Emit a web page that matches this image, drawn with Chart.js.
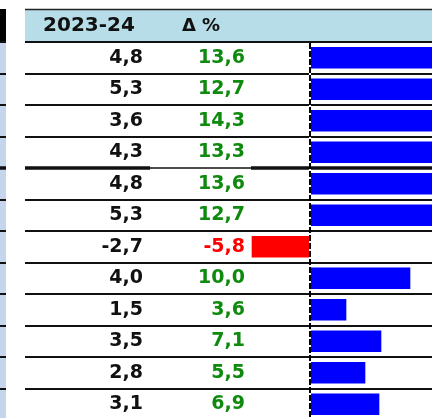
<!DOCTYPE html>
<html>
<head>
<meta charset="utf-8">
<script src="https://cdn.jsdelivr.net/npm/chart.js@4"></script>
<style>
html, body { margin: 0; padding: 0; background: #fff; overflow: hidden; }
canvas { display: block; }
</style>
</head>
<body>
<canvas id="myChart" width="432" height="422"></canvas>
<script>
var rowLabels = ['1', '2', '3', '4', '5', '6', '7', '8', '9', '10', '11', '12'];
var values2324 = [4.8, 5.3, 3.6, 4.3, 4.8, 5.3, -2.7, 4.0, 1.5, 3.5, 2.8, 3.1];
var deltaPct = [13.6, 12.7, 14.3, 13.3, 13.6, 12.7, -5.8, 10.0, 3.6, 7.1, 5.5, 6.9];
var headers = ['2023-24', 'Δ %'];

var barColors = deltaPct.map(function(v) { return v < 0 ? '#ff0000' : '#0000ff'; });

function fmt(v) {
	return v.toFixed(1).replace('.', ',');
}

var tablePlugin = {
	id: 'table',
	beforeDatasetsDraw: function(chart) {
		var ctx = chart.ctx;
		var y = chart.scales.y;
		var half = (y.getPixelForValue(1) - y.getPixelForValue(0)) / 2;
		var top = chart.chartArea.top;
		var w = chart.width;

		ctx.save();
		// left strip
		ctx.fillStyle = '#000';
		ctx.fillRect(0, 9, 6, top - 9);
		ctx.fillStyle = '#c5d6ec';
		ctx.fillRect(0, top, 6, chart.height - top);

		// header
		ctx.fillStyle = '#b7dde8';
		ctx.fillRect(25, 10, w - 25, top - 10);
		ctx.strokeStyle = '#222';
		ctx.lineWidth = 1.5;
		ctx.beginPath();
		ctx.moveTo(25, 9.5);
		ctx.lineTo(w, 9.5);
		ctx.stroke();

		// row lines
		for (var i = 0; i < rowLabels.length; i++) {
			var ly = Math.round(y.getPixelForValue(i) - half);
			ctx.strokeStyle = '#111';
			if (i == 4) {
				ctx.lineWidth = 3.5;
				ctx.beginPath();
				ctx.moveTo(0, ly); ctx.lineTo(6, ly);
				ctx.moveTo(25, ly); ctx.lineTo(150, ly);
				ctx.moveTo(251, ly); ctx.lineTo(w, ly);
				ctx.stroke();
				ctx.lineWidth = 1.5;
				ctx.beginPath();
				ctx.moveTo(150, ly); ctx.lineTo(251, ly);
				ctx.stroke();
			} else {
				ctx.lineWidth = 2;
				ctx.beginPath();
				ctx.moveTo(0, ly); ctx.lineTo(6, ly);
				ctx.moveTo(25, ly); ctx.lineTo(w, ly);
				ctx.stroke();
			}
		}

		// header text
		ctx.fillStyle = '#111';
		ctx.textBaseline = 'middle';
		ctx.textAlign = 'center';
		ctx.font = 'bold 20px "DejaVu Sans"';
		ctx.fillText(headers[0], 89, 26);
		ctx.font = 'bold 18px "DejaVu Sans"';
		ctx.fillText(headers[1], 201, 26);

		// cells
		ctx.font = 'bold 19px "DejaVu Sans"';
		ctx.textAlign = 'right';
		for (var j = 0; j < rowLabels.length; j++) {
			var cy = y.getPixelForValue(j);
			ctx.fillStyle = '#111';
			ctx.fillText(fmt(values2324[j]), 143, cy);
			ctx.fillStyle = deltaPct[j] < 0 ? '#ff0000' : '#0e8a0e';
			ctx.fillText(fmt(deltaPct[j]), 245, cy);
		}
		ctx.restore();
	},
	afterDatasetsDraw: function(chart) {
		// dashed zero line on top of the bars
		var ctx = chart.ctx;
		var zx = Math.round(chart.scales.x.getPixelForValue(0));
		var t = chart.chartArea.top + 1;
		ctx.save();
		ctx.lineWidth = 2;
		ctx.strokeStyle = '#fff';
		ctx.beginPath();
		ctx.moveTo(zx, t);
		ctx.lineTo(zx, chart.height);
		ctx.stroke();
		ctx.strokeStyle = '#000';
		ctx.setLineDash([6, 2]);
		ctx.beginPath();
		ctx.moveTo(zx, t);
		ctx.lineTo(zx, chart.height);
		ctx.stroke();
		ctx.restore();
	}
};

var myChart = document.getElementById('myChart').getContext('2d');

var chart = new Chart(myChart, {
	type: 'bar',
	data: {
		labels: rowLabels,
		datasets: [{
			data: deltaPct,
			backgroundColor: barColors,
			borderWidth: 0,
			barThickness: 21
		}]
	},
	options: {
		indexAxis: 'y',
		responsive: false,
		animation: false,
		layout: {
			padding: { left: 250, top: 42, right: 0, bottom: 2 }
		},
		scales: {
			x: { display: false, min: -6.0, max: 12.2 },
			y: { display: false }
		},
		plugins: {
			legend: { display: false },
			tooltip: { enabled: false }
		}
	},
	plugins: [tablePlugin]
});
</script>
</body>
</html>
